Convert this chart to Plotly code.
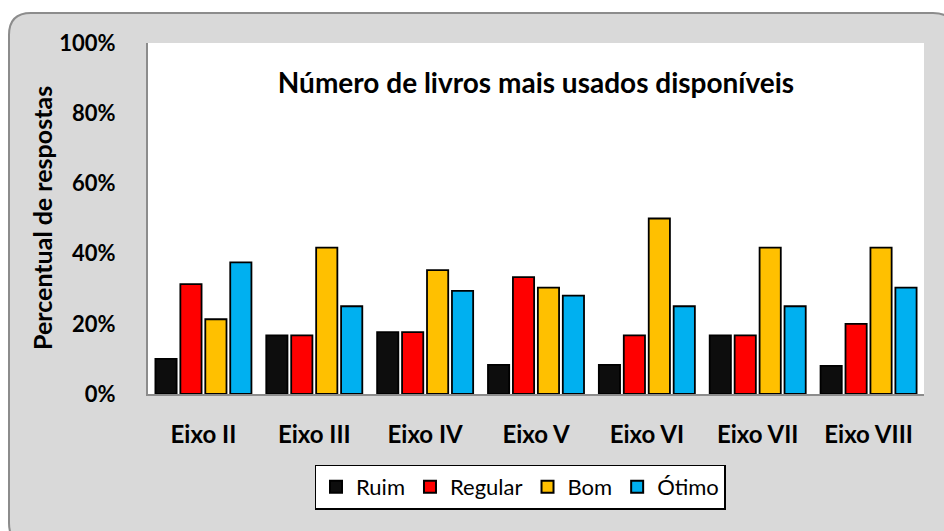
import plotly.graph_objects as go

categories = ["Eixo II", "Eixo III", "Eixo IV", "Eixo V", "Eixo VI", "Eixo VII", "Eixo VIII"]
series_names = ["Ruim", "Regular", "Bom", "Ótimo"]
ruim = [0.10, 0.167, 0.176, 0.083, 0.083, 0.167, 0.08]
regular = [0.313, 0.167, 0.176, 0.333, 0.167, 0.167, 0.20]
bom = [0.213, 0.417, 0.353, 0.303, 0.50, 0.417, 0.417]
otimo = [0.375, 0.25, 0.294, 0.28, 0.25, 0.25, 0.303]
colors = ["#0d0d0d", "#ff0000", "#ffc000", "#00b0f0"]
tick_vals = [0, 0.2, 0.4, 0.6, 0.8, 1.0]
tick_text = ["0%", "20%", "40%", "60%", "80%", "100%"]

W, H = 944, 531
L, R, T, B = 148, 20, 43, 137
PW, PH = W - L - R, H - T - B

def px(x):
    return (x - L) / PW

def py(y):
    return (H - B - y) / PH

FONT = "Lato"

fig = go.Figure()
for name, vals, col in zip(series_names, [ruim, regular, bom, otimo], colors):
    fig.add_trace(go.Bar(
        x=categories, y=vals, name=name,
        marker=dict(color=col, line=dict(color="#000000", width=1.8)),
    ))

# rounded outer frame
x0, y0, x1, y1, r = 9, 13, 955, 545, 22
path = (f"M {px(x0)},{py(y0 + r)} "
        f"Q {px(x0)},{py(y0)} {px(x0 + r)},{py(y0)} "
        f"L {px(x1 - r)},{py(y0)} "
        f"Q {px(x1)},{py(y0)} {px(x1)},{py(y0 + r)} "
        f"L {px(x1)},{py(y1 - r)} "
        f"Q {px(x1)},{py(y1)} {px(x1 - r)},{py(y1)} "
        f"L {px(x0 + r)},{py(y1)} "
        f"Q {px(x0)},{py(y1)} {px(x0)},{py(y1 - r)} Z")
fig.add_shape(type="path", path=path, xref="paper", yref="paper", layer="below",
              fillcolor="#d9d9d9", line=dict(color="#8c8c8c", width=2))
fig.add_shape(type="rect", x0=0, x1=1, y0=0, y1=1, xref="paper", yref="paper",
              layer="below", fillcolor="#ffffff", line=dict(width=0))

fig.add_annotation(text="<b>Percentual de respostas</b>", textangle=-90,
                   x=px(42), y=py(218), xref="paper", yref="paper",
                   xanchor="center", yanchor="middle",
                   showarrow=False, font=dict(family=FONT, size=25, color="#000000"))

fig.update_layout(
    width=W, height=H,
    margin=dict(l=L, r=R, t=T, b=B, pad=0),
    paper_bgcolor="#ffffff", plot_bgcolor="rgba(0,0,0,0)",
    barmode="group", bargap=0.1, bargroupgap=0.15,
    title=dict(text="<b>Número de livros mais usados disponíveis</b>",
               x=0.5, xref="paper", xanchor="center",
               y=1 - 83 / H, yanchor="middle",
               font=dict(family=FONT, size=28, color="#000000")),
    font=dict(family=FONT, color="#000000"),
    showlegend=True,
    legend=dict(orientation="h", x=px(520), xanchor="center", y=py(487), yanchor="middle",
                bgcolor="#ffffff", bordercolor="#000000", borderwidth=1.5,
                font=dict(family=FONT, size=22, color="#000000"),
                itemwidth=30, itemsizing="constant", traceorder="normal"),
    xaxis=dict(showline=True, linecolor="#8c8c8c", linewidth=2, ticks="",
               showgrid=False, ticklabelstandoff=18,
               tickfont=dict(family=FONT, size=24, color="#000000"),
               tickprefix="<b>", ticksuffix="</b>"),
    yaxis=dict(range=[0, 1], tickvals=tick_vals, ticktext=[f"<b>{t}</b>" for t in tick_text],
               showline=True, linecolor="#8c8c8c", linewidth=2, ticks="",
               showgrid=False, zeroline=False, ticklabelstandoff=26,
               tickfont=dict(family=FONT, size=22, color="#000000")),
)

fig.write_html("out.html", config={"displayModeBar": False},
               post_script="document.body.style.margin='0';")
